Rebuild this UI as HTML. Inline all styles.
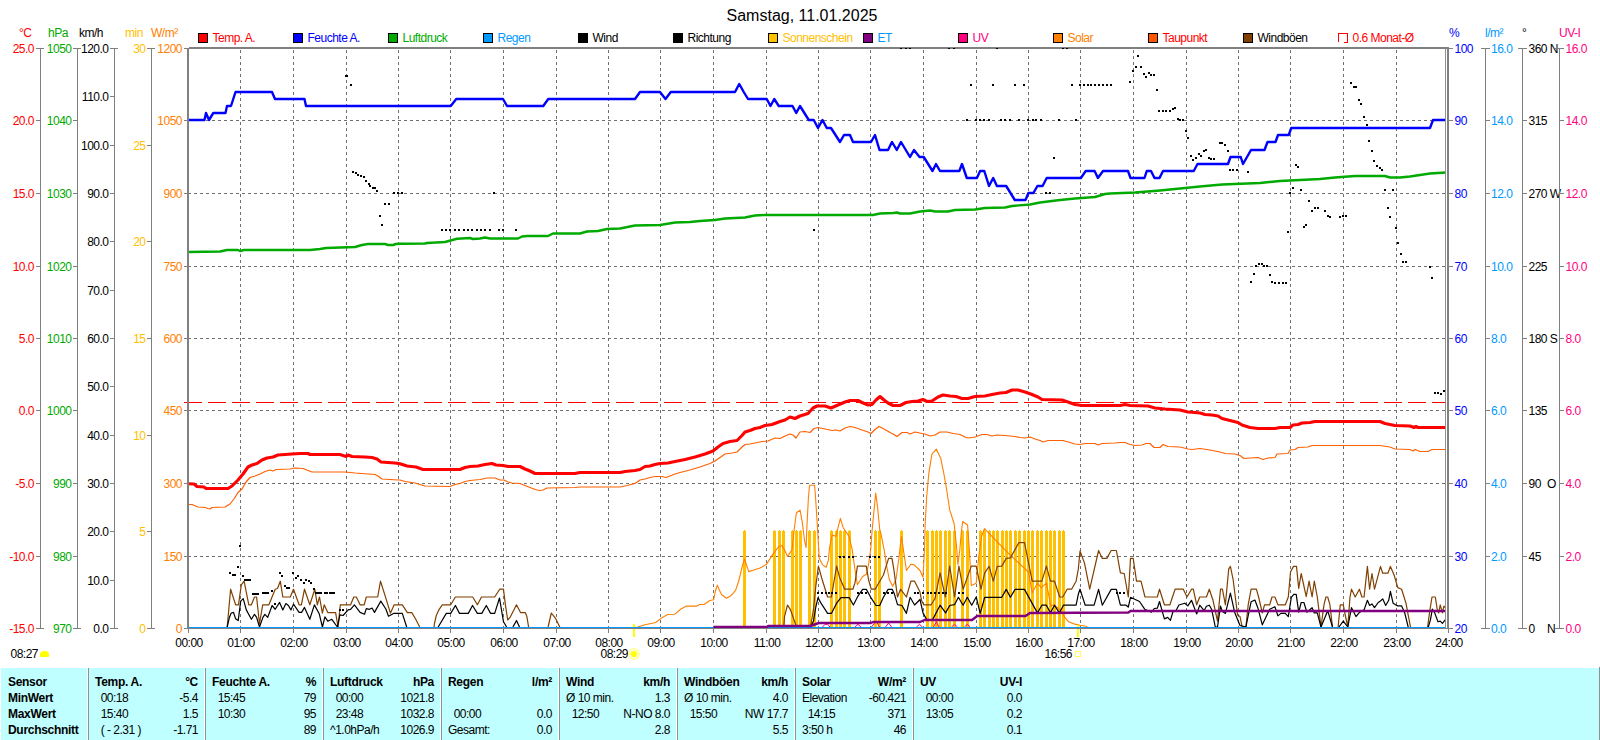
<!DOCTYPE html>
<html lang="de"><head><meta charset="utf-8"><title>Samstag, 11.01.2025</title>
<style>
html,body{margin:0;padding:0;background:#fff;}
body{width:1600px;height:740px;overflow:hidden;position:relative;font-family:"Liberation Sans",sans-serif;}
svg{position:absolute;left:0;top:0;display:block;}
svg text{font-family:"Liberation Sans",sans-serif;font-size:12px;letter-spacing:-0.5px;}
.t16{font-size:16px;letter-spacing:0;}
.b{font-weight:bold;letter-spacing:-0.3px;}
.e{text-anchor:end;}
.m{text-anchor:middle;}
.red{fill:#ff0000;} .grn{fill:#00aa00;} .blk{fill:#000;} .yel{fill:#ffc000;} .org{fill:#ff8000;}
.blu{fill:#0000ff;} .lbl{fill:#0099ff;} .pnk{fill:#ff0080;}
.ax{stroke:#808080;stroke-width:1;shape-rendering:crispEdges;fill:none;}
.grid{stroke:#707070;stroke-width:1;stroke-dasharray:3 3;shape-rendering:crispEdges;fill:none;}
</style></head><body>
<svg width="1600" height="740" viewBox="0 0 1600 740">
<rect x="0" y="0" width="1600" height="740" fill="#ffffff"/>
<text x="802" y="21" class="t16 m blk">Samstag, 11.01.2025</text>
<g class="grid">
<line x1="240.5" y1="50" x2="240.5" y2="627"/>
<line x1="293.5" y1="50" x2="293.5" y2="627"/>
<line x1="346.5" y1="50" x2="346.5" y2="627"/>
<line x1="398.5" y1="50" x2="398.5" y2="627"/>
<line x1="450.5" y1="50" x2="450.5" y2="627"/>
<line x1="503.5" y1="50" x2="503.5" y2="627"/>
<line x1="556.5" y1="50" x2="556.5" y2="627"/>
<line x1="608.5" y1="50" x2="608.5" y2="627"/>
<line x1="660.5" y1="50" x2="660.5" y2="627"/>
<line x1="713.5" y1="50" x2="713.5" y2="627"/>
<line x1="766.5" y1="50" x2="766.5" y2="627"/>
<line x1="818.5" y1="50" x2="818.5" y2="627"/>
<line x1="870.5" y1="50" x2="870.5" y2="627"/>
<line x1="923.5" y1="50" x2="923.5" y2="627"/>
<line x1="976.5" y1="50" x2="976.5" y2="627"/>
<line x1="1028.5" y1="50" x2="1028.5" y2="627"/>
<line x1="1080.5" y1="50" x2="1080.5" y2="627"/>
<line x1="1133.5" y1="50" x2="1133.5" y2="627"/>
<line x1="1186.5" y1="50" x2="1186.5" y2="627"/>
<line x1="1238.5" y1="50" x2="1238.5" y2="627"/>
<line x1="1290.5" y1="50" x2="1290.5" y2="627"/>
<line x1="1343.5" y1="50" x2="1343.5" y2="627"/>
<line x1="1396.5" y1="50" x2="1396.5" y2="627"/>
<line x1="188" y1="120.5" x2="1445" y2="120.5"/>
<line x1="188" y1="193.5" x2="1445" y2="193.5"/>
<line x1="188" y1="266.5" x2="1445" y2="266.5"/>
<line x1="188" y1="338.5" x2="1445" y2="338.5"/>
<line x1="188" y1="410.5" x2="1445" y2="410.5"/>
<line x1="188" y1="483.5" x2="1445" y2="483.5"/>
<line x1="188" y1="556.5" x2="1445" y2="556.5"/>
</g>
<g fill="#ffc000" shape-rendering="crispEdges">
<rect x="743" y="531" width="3" height="97"/><rect x="744" y="530" width="1" height="1"/>
<rect x="773" y="531" width="3" height="97"/><rect x="774" y="530" width="1" height="1"/>
<rect x="778" y="531" width="3" height="97"/><rect x="779" y="530" width="1" height="1"/>
<rect x="782" y="531" width="3" height="97"/><rect x="783" y="530" width="1" height="1"/>
<rect x="791" y="531" width="3" height="97"/><rect x="792" y="530" width="1" height="1"/>
<rect x="795" y="531" width="3" height="97"/><rect x="796" y="530" width="1" height="1"/>
<rect x="799" y="531" width="3" height="97"/><rect x="800" y="530" width="1" height="1"/>
<rect x="808" y="531" width="3" height="97"/><rect x="809" y="530" width="1" height="1"/>
<rect x="813" y="531" width="3" height="97"/><rect x="814" y="530" width="1" height="1"/>
<rect x="830" y="531" width="3" height="97"/><rect x="831" y="530" width="1" height="1"/>
<rect x="835" y="531" width="3" height="97"/><rect x="836" y="530" width="1" height="1"/>
<rect x="839" y="531" width="3" height="97"/><rect x="840" y="530" width="1" height="1"/>
<rect x="843" y="531" width="3" height="97"/><rect x="844" y="530" width="1" height="1"/>
<rect x="848" y="531" width="3" height="97"/><rect x="849" y="530" width="1" height="1"/>
<rect x="874" y="531" width="3" height="97"/><rect x="875" y="530" width="1" height="1"/>
<rect x="878" y="531" width="3" height="97"/><rect x="879" y="530" width="1" height="1"/>
<rect x="900" y="531" width="3" height="97"/><rect x="901" y="530" width="1" height="1"/>
<rect x="926" y="531" width="3" height="97"/><rect x="927" y="530" width="1" height="1"/>
<rect x="931" y="531" width="3" height="97"/><rect x="932" y="530" width="1" height="1"/>
<rect x="935" y="531" width="3" height="97"/><rect x="936" y="530" width="1" height="1"/>
<rect x="939" y="531" width="3" height="97"/><rect x="940" y="530" width="1" height="1"/>
<rect x="944" y="531" width="3" height="97"/><rect x="945" y="530" width="1" height="1"/>
<rect x="948" y="531" width="3" height="97"/><rect x="949" y="530" width="1" height="1"/>
<rect x="953" y="531" width="3" height="97"/><rect x="954" y="530" width="1" height="1"/>
<rect x="961" y="531" width="3" height="97"/><rect x="962" y="530" width="1" height="1"/>
<rect x="966" y="531" width="3" height="97"/><rect x="967" y="530" width="1" height="1"/>
<rect x="979" y="531" width="3" height="97"/><rect x="980" y="530" width="1" height="1"/>
<rect x="983" y="531" width="3" height="97"/><rect x="984" y="530" width="1" height="1"/>
<rect x="988" y="531" width="3" height="97"/><rect x="989" y="530" width="1" height="1"/>
<rect x="992" y="531" width="3" height="97"/><rect x="993" y="530" width="1" height="1"/>
<rect x="996" y="531" width="3" height="97"/><rect x="997" y="530" width="1" height="1"/>
<rect x="1001" y="531" width="3" height="97"/><rect x="1002" y="530" width="1" height="1"/>
<rect x="1005" y="531" width="3" height="97"/><rect x="1006" y="530" width="1" height="1"/>
<rect x="1009" y="531" width="3" height="97"/><rect x="1010" y="530" width="1" height="1"/>
<rect x="1014" y="531" width="3" height="97"/><rect x="1015" y="530" width="1" height="1"/>
<rect x="1018" y="531" width="3" height="97"/><rect x="1019" y="530" width="1" height="1"/>
<rect x="1023" y="531" width="3" height="97"/><rect x="1024" y="530" width="1" height="1"/>
<rect x="1027" y="531" width="3" height="97"/><rect x="1028" y="530" width="1" height="1"/>
<rect x="1031" y="531" width="3" height="97"/><rect x="1032" y="530" width="1" height="1"/>
<rect x="1036" y="531" width="3" height="97"/><rect x="1037" y="530" width="1" height="1"/>
<rect x="1040" y="531" width="3" height="97"/><rect x="1041" y="530" width="1" height="1"/>
<rect x="1045" y="531" width="3" height="97"/><rect x="1046" y="530" width="1" height="1"/>
<rect x="1049" y="531" width="3" height="97"/><rect x="1050" y="530" width="1" height="1"/>
<rect x="1053" y="531" width="3" height="97"/><rect x="1054" y="530" width="1" height="1"/>
<rect x="1058" y="531" width="3" height="97"/><rect x="1059" y="530" width="1" height="1"/>
<rect x="1062" y="531" width="3" height="97"/><rect x="1063" y="530" width="1" height="1"/>
</g>
<polyline points="637.5,627 645.1,624.7 655.7,622.5 661.4,618.1 667.7,614.5 674.6,614.3 680.9,609 686.5,606.1 696.6,606.1 699.7,604.5 704.1,604.5 709.8,600.5 713.6,599.8 715.4,591 717.3,585.1 719.2,589.8 721.7,594.8 726.5,598.3 730.5,596.1 735.6,590.4 738.7,581 742.5,565.3 744.4,559 746.2,564 748.7,571.6 753.1,570.3 759.4,568.2 766.3,564.6 773.4,553.4 778.6,546.8 782,545.6 784.5,549.7 787.5,556.4 792,550 794.2,529.2 796.4,512.8 800.1,510.2 802.4,523.2 804.6,541.1 806.1,547.5 806.8,529.2 808.3,499.5 809.5,485.3 814.6,485.3 815.7,499.5 817.2,523.2 819.2,557.9 822.4,564.6 826.2,567.3 828.4,560.1 829.5,548 832.1,535.1 836.1,536.3 838,527.7 840.4,518.3 843.2,527.7 849.2,536.6 852.2,549.7 855.1,570.5 857.4,584.7 862.6,576.5 866.3,574.3 868.5,564.6 870.7,549.7 872.2,529.2 874.5,505.4 875.7,493.1 877.4,505.4 879.7,529.2 881.2,534.9 884.1,549.7 886.4,564.6 889.3,579.5 892.7,586.2 896,579.5 899,557.2 900.5,544 901.5,536.6 903.4,549.7 906.4,570.5 910.9,564.2 913.9,564.6 920,570.5 923,577.2 924.5,549.7 925.2,523.2 926.7,496.5 928.9,472.7 931.9,454.1 936.4,449.2 940.8,458.6 943.8,473.4 946.8,490.5 949.7,509.9 954.2,524 956.4,545 957.9,564.6 959.8,550 961.3,532.2 962.7,521.5 967.6,525 969.5,552 971.3,585.4 976.2,583.2 978.7,557.2 981.7,536 984.4,528.6 1009.2,554.2 1028.5,572 1032.2,592.8 1037.4,583.2 1041.2,587.6 1046.4,583.2 1048.6,594.3 1050.8,606.2 1053.8,604.7 1057.5,607.7 1061.2,610.7 1064.9,617.4 1068.7,621.8 1074.6,624.1 1080,625.3 1087.4,626.5" fill="none" stroke="#ff8000" stroke-width="1.1" stroke-linejoin="round" />
<polyline points="227.2,627 230.6,589.2 235.6,604.8 238.5,604.8 241.3,584.8 244.1,581.2 248.8,604.8 251.4,604.8 254.5,597 256.6,597 259.5,623.7 262.7,604.8 268.9,604.8 275.2,589.2 277.5,588.5 280.3,581.2 282.8,597 290.3,597 293.5,589.2 299.1,604.8 301.4,604.8 304.5,589.2 309.8,604.8 314.8,589.2 317.3,604.8 319.5,597 322.4,613.2 324.2,604.8 327.8,612.6 335.6,612.6 338.1,627 340.3,604.8 350.6,604.8 353.8,597 356.3,597 360.1,604.8 364.2,604.8 366.3,597 377.7,597 380.5,581.2 386,598.6 390.4,613.2 394.2,604.8 402.3,604.8 407.4,612.6 411.8,612.6 415.5,618.7 419.7,627" fill="none" stroke="#804000" stroke-width="1.2" stroke-linejoin="round" />
<polyline points="434.1,627 434.4,623.7 436.3,615.5 438.8,609.9 442.3,604.8 450.7,604.8 455.4,597 472.7,597 477.4,604.8 481.5,597 494.7,597 499.7,589.2 503.5,589.2 505.4,604.9 507.7,620 510.4,616.8 516.5,604.8 520.5,612.6 525.2,612.6 526.8,616.2 528.6,627" fill="none" stroke="#804000" stroke-width="1.2" stroke-linejoin="round" />
<polyline points="548.1,627 551.3,613 555.7,618.7 559.8,627" fill="none" stroke="#804000" stroke-width="1.2" stroke-linejoin="round" />
<polyline points="783.8,627 784.5,616.6 787.5,605 790.5,609.9 795.7,624.8 797,627" fill="none" stroke="#804000" stroke-width="1.2" stroke-linejoin="round" />
<polyline points="810.5,627 813.5,609.2 815.7,586.9 818.4,566.2 821.7,578 827.6,597 831.4,597 836.6,566.2 839.5,577.2 844.7,589.2 852.9,589.2 855.1,582.4 857.4,566.2 866.3,566.2 868.5,579.5 871.2,589.2 875.2,589.2 883.4,575 888.6,558.4 892,558.4 893.8,569.1 897.5,597 900.5,589.2 906.4,597 910.9,581.2 914.6,581.2 920,592.1 921.5,600.3 923.7,604.8 931.1,604.8 934.9,598.8 940.1,572.8 945.3,597 949.7,566.1 954.6,597 958.9,566.1 963.1,589.2 971.3,566.1 976.2,566.1 981,589.2 984.7,572.8 989.1,566.4 993.3,581.2 997.3,566.4 1001.8,566.1 1006.2,558.4 1010.4,557.9 1018.9,542.6 1024.5,542.6 1032.2,581.2 1041.9,581.2 1046.4,566.1 1050.4,581.2 1054.5,581.2 1059.7,597 1062.7,597 1067.2,589.2 1071.6,589.2 1076.1,581.2 1078.3,569.1 1080,551 1084.5,563.1 1089.7,589.2 1098.6,550.5 1102.3,558.4 1106.8,558.4 1111.2,550.5 1116.4,550.5 1120.4,572.8 1124.2,573.5 1128.3,597 1130.5,558.4 1133.2,558.4 1136.5,581.2 1141,581.2 1145,597 1157.3,597 1159.5,589.2 1164.4,604.8 1169.9,604.8 1175.1,589.2 1183.3,589.2 1187,597 1191.5,589.2 1193.3,589.2 1196.7,604.8 1199.7,597 1206.4,597 1209.3,589.2 1213,600.3 1217.5,621.1 1220.5,589.2 1222.4,589.2 1225.4,604.8 1228.7,569.1 1230.4,566.4 1233.1,579.5 1237.6,615.1 1240,616.6 1242.2,627 1245.9,627 1248.2,604.8 1251.1,589.2 1256.4,589.2 1258.6,597 1262.3,613 1264.5,604.8 1269.7,604.8 1272,597 1274.9,597 1277.9,604.8 1285.3,604.8 1288.3,597 1290.5,572 1293.5,566.4 1296.5,566.4 1298.7,588.4 1301.2,573.5 1306.2,596.6 1309.1,581.2 1312.1,597 1314.3,581.2 1317.3,597 1321,627 1324,604.7 1325.9,597 1327.7,597 1329.9,604.7 1332.5,627" fill="none" stroke="#804000" stroke-width="1.2" stroke-linejoin="round" />
<polyline points="1338.1,627 1340.3,604.8 1343.3,604.8 1344.8,613 1347.8,627 1350,597 1351.5,589.2 1355.2,597 1359.4,589.2 1361.9,597 1364.1,597 1367.4,566.4 1369.6,589.2 1372,573.5 1374.5,589.2 1380.5,566.4 1382.7,573.2 1387.9,573.2 1390.4,566.4 1394.1,575 1397.8,587.6 1401.6,589.2 1406,603.2 1408.2,615.1 1410.5,627" fill="none" stroke="#804000" stroke-width="1.2" stroke-linejoin="round" />
<polyline points="1427.6,627 1429.8,610.7 1432,597 1435.3,597 1437.2,609.2 1438.7,612.9 1440.2,604.8 1442.4,612.9 1443.9,606.2 1445.4,607.7" fill="none" stroke="#804000" stroke-width="1.2" stroke-linejoin="round" />
<polyline points="227.2,627 229.4,617.4 231.2,613 233.5,612.4 235.6,618.7 238.2,620.6 240.7,601.1 243.2,598.6 246.3,609.9 251.4,619.3 254.5,614.3 256.6,617.4 259.5,627 262.9,617.4 264.9,614.3 267.7,617.4 272.1,605.5 275.2,609.3 279.6,602.4 282.8,609.9 285.9,603.6 288.4,605.5 290.9,609.9 293.5,604.2 299.1,612.4 301.6,612.4 304.5,607.4 309.8,619.3 314.4,604.9 319.2,613.7 322.4,627 324.9,616.8 327.8,621.2 331.8,619.3 337.4,627 339.9,614.9 343.1,615.5 348.1,609.9 350.6,609.3 354.4,604.9 360.1,612.4 364.5,614.3 366.3,608.6 369.5,609.3 372,608 374.5,612.4 380.8,601.1 386,609.3 388.5,616.2 393.5,613.4 402.3,613.4 406.7,627" fill="none" stroke="#000000" stroke-width="1.2" stroke-linejoin="round" />
<polyline points="438.2,627 446.3,613.4 450.7,613.4 455.4,605.5 459.5,613.4 468.3,613.4 472.5,605.5 477.4,613.4 481.8,613.4 486.3,605.5 490.6,613.4 494.7,613.4 499.5,598 503.5,621.8 506.6,627" fill="none" stroke="#000000" stroke-width="1.2" stroke-linejoin="round" />
<polyline points="512.9,627 516.5,620.6 519.5,627" fill="none" stroke="#000000" stroke-width="1.2" stroke-linejoin="round" />
<polyline points="810.5,627 813.5,621.1 815.7,607.7 818,597.6 821,603.2 827.6,613.4 831.4,613.4 836.6,603.2 841,597.6 849.2,597.6 853.4,605 858.1,595.8 862.6,589.4 866.3,589.4 870.7,597.3 876,605.5 879.7,605.5 883.4,597.3 888.1,589.4 892.3,589.4 894.5,594.3 897.5,604.7 902,605.5 906.4,613.4 910.1,597.3 914.6,605 920,599.5 923,612.9 926.7,619.6 932.6,619.6 940.1,605.2 945.6,612.9 949.7,605.5 954.5,604.7 958.4,597.3 963.1,605.2 967.3,597.3 971.7,605.2 976.2,597 980.2,613.4 984.7,597.3 1001.8,597.3 1006.2,589.4 1010.4,597.3 1015.1,589.4 1024.5,589.4 1037.4,612.9 1041.9,605.2 1046.4,605.2 1050.4,612.9 1054.5,605.2 1059.3,612.9 1063.5,605.2 1076.1,605.2 1078.3,594.3 1080,589.1 1085.2,605.2 1094.1,605.2 1098.6,589.4 1102.3,605.2 1111.2,589.4 1116.4,589.4 1120.4,605.2 1126.1,605.2 1128.3,607 1130.5,597.3 1139.5,601.5 1144.7,609.2 1151.4,612.2 1154.3,608.5 1157.3,608.2 1159.5,601.5 1164.4,618.9 1167.7,617.4 1170.4,620.3 1172.9,611.9 1175.9,610.7 1178.9,605 1184.8,603.2 1187.8,605.9 1191.5,600.3 1196.7,614 1199.7,605.2 1204.1,610.7 1206.4,606.2 1209.3,605.2 1211.6,609.2 1215.3,627 1217.5,627 1220.5,606.2 1222.4,611.4 1225.4,613.4 1230.4,593.1 1234.6,612.2 1240,625.5 1245.9,627 1248.9,612.2 1251.1,601.8 1254.9,600 1257.8,607.7 1262.3,624.8 1269.7,609.2 1274.9,606.7 1277.9,615.9 1280.9,613.4 1285.3,613.4 1288.3,616.6 1291.3,597.3 1293.8,594.3 1296.2,594.3 1298.7,612.2 1301.2,602.5 1303.9,602.5 1306.9,612.2 1312.1,607.7 1314.3,612.9 1317.3,612.9 1321,627 1327.7,610.7 1332.5,627" fill="none" stroke="#000000" stroke-width="1.2" stroke-linejoin="round" />
<polyline points="1338.9,627 1343.3,621.1 1347.8,627 1351.5,607.7 1356,616.6 1359.7,612.2 1364.1,609.9 1367.4,600.3 1369.6,605.5 1372,604 1374.5,607.7 1378.2,602.5 1380.5,601 1382.7,598.8 1385.7,605.5 1388.7,600.3 1390.4,591.4 1393.1,603.2 1397.6,605.9 1401.6,605.9 1404.5,612.2 1408.2,627" fill="none" stroke="#000000" stroke-width="1.2" stroke-linejoin="round" />
<polyline points="1428.3,627 1430.5,619.6 1432.3,609.2 1434.3,611.9 1438,621.8 1440.2,621.1 1442.4,623.3 1445.4,619.6" fill="none" stroke="#000000" stroke-width="1.2" stroke-linejoin="round" />
<polyline points="188,504.5 192,504.5 198,507 205,507.5 208,508.5 210,509 212,507.5 225,507 230,504 234,499 238,492.5 242,489 246,482 250,477.5 255,476 260,474 265,471.5 270,470 273,471 276,469.5 290,469 295,468 303,468.5 308,470.5 312,472 345,472 350,472.5 355,473 375,474.5 378,476 382,479 398,480 400,480 405,481.5 415,483 420,484.5 425,486 450,486.5 455,484.5 460,483.5 465,481.5 470,480.5 480,479.5 487,478 495,478 500,480 504,480 508,482 512,483 520,483.5 525,485.5 530,487.5 535,489.5 540,490.5 543,490 547,488 575,487.5 580,487 620,487 627,485.5 635,483.5 640,480 645,479 650,477.5 655,476.5 662,476.5 666,477.5 670,476 675,474 680,472.5 690,470 700,467 710,463.5 715,461 720,457.5 725,454 732,453 737,452 742,447 745,444.5 750,444 755,443 762,441.5 768,441 775,438 780,438.5 785,436 790,434 793,435 796,438 800,432 805,431.5 810,432.5 814,428.5 818,427.5 825,429 832,430.5 836,430 840,431 845,428 850,426.5 855,427.5 862,430 868,432 871,433.5 875,429.5 879,426.5 885,429.5 890,432.5 893,434 897,436.5 902,432.5 907,432.5 910,434 915,432 922,433.5 925,434 930,436 935,435 940,432 947,432 953,433.5 960,434.5 965,437 968,438 975,437 982,434.5 987,434.5 992,436 997,435 1005,435.5 1010,436 1015,436.5 1020,437.5 1025,438 1030,437 1035,439 1040,440.5 1043,442 1048,440.5 1063,440.5 1070,442.5 1075,444 1080,444.5 1085,443.5 1095,443.5 1098,445 1102,443.5 1115,443 1120,442.5 1125,442.5 1130,444.5 1135,445.5 1142,445 1146,443.5 1150,443.5 1154,447.5 1160,447.5 1163,444.5 1168,446.5 1180,447 1188,449 1192,449.5 1200,448.5 1210,450 1215,451 1220,452 1225,453.5 1235,454 1240,455.5 1244,458.5 1250,458 1258,457.5 1263,459.5 1268,458 1275,457.5 1277,454 1288,453.5 1290,450 1295,449.5 1298,447.5 1308,447 1312,445.5 1380,445.5 1390,447 1395,449 1410,449.5 1413,451 1415,449.5 1420,451.5 1428,451.5 1432,449.5 1446,449.5" fill="none" stroke="#ff6000" stroke-width="1.2" stroke-linejoin="round" />
<polyline points="188,252 220,251.5 227,250 238,250 240,251 244,250 310,250 320,249 326,248 355,247 362,245 368,244 385,244 388,245 393,245 396,244 400,243.75 425,243.5 427,243 445,242 457,238.75 470,238 473,239 480,238.5 485,237.5 490,238.5 518,238.5 522,236.5 527,236 548,236 553,233.5 580,233.5 587,231.5 598,231 607,229 620,228.5 630,226.5 635,225.5 660,225 675,222.5 690,222 700,221 715,220 725,218.5 745,217.5 755,215.5 765,215 800,215 873,215 880,213.5 893,213 897,212.5 900,213.5 910,213.5 920,211.5 930,210.5 935,211.5 948,211.5 955,210 975,209.5 985,208 1005,207.5 1012,206 1030,204.5 1040,202.5 1048,201.5 1060,200 1075,198.5 1095,197 1105,194 1110,193.5 1135,192.5 1160,190.5 1175,189 1200,186.5 1222,184.5 1260,183 1280,181 1290,180.5 1320,179 1335,177.5 1355,176 1385,176 1390,177.5 1400,177.5 1410,176.5 1420,175 1430,173.5 1446,172.5" fill="none" stroke="#00aa00" stroke-width="2.4" stroke-linejoin="round" />
<polyline points="188,120 204.5,120 206,113 209,120 213.3,113 225.5,113 227,106 231,106 235.5,92 272,92 275,99 304.5,99 306,106 450.75,106 456.25,99 503,99 507,106 543.25,106 548.25,99 635,99 640,92 660,92 665.5,99 670.75,92 735,92 739.25,84 743.75,92 748,99 766.75,99 770.5,106 774.25,99 778.75,106 792.5,106 796.25,113 800,106 808.75,120 813.75,120 818,128 822.5,120 826.75,128 831,128 840,142 844,135 850,135 853,142 871,142 875,135 879.5,150 888,150 892,142 896.75,150 901,142 910,157 914,150 919.5,157 923.75,157 932.5,171 936,164 940,171 959.3,171 962,164 966.8,178 976.9,178 980.1,171 984.3,171 989,186 993.2,178 996.9,186 1006.2,186 1014.8,200 1025.5,200 1028.4,193 1033.4,193 1037.4,186 1042.6,186 1046.7,178 1080.9,178 1085.7,171 1094.6,171 1097.9,178 1103,171 1128,171 1130.5,178 1144.5,178 1146.75,171 1151,171 1154.5,178 1159.5,178 1163,171 1193.75,171 1197.5,164 1228,164 1230.5,157 1240.75,157 1243,164 1251,150 1264.5,150 1267.5,142 1275.5,142 1278,135 1288.75,135 1291.25,128 1430,128 1433,120 1446,120" fill="none" stroke="#0000ff" stroke-width="2.4" stroke-linejoin="round" />
<polyline points="188,483.75 194,484 197,486.5 204,487 206,488.5 228,488.5 232,486 238,480 243,474 248,467 252,465 257,463.5 262,460 267,458 273,457 278,455 292,454 300,453.5 308,453.5 310,454.5 340,454.5 343,455.5 346,456.5 348,455 352,456.5 365,457 372,457.5 377,459 381,462 395,463 400,463.75 407,466 416,467 423,469.5 460,469.5 465,467.5 470,466.5 478,466 485,464.5 492,463.5 496,465 503,465.5 508,466.5 520,466.5 525,469 530,471 535,473.5 575,473.5 580,472.5 620,472.5 625,471.5 635,470.5 640,469.5 645,466.5 650,466 655,464.5 660,463.5 668,463 675,461.5 685,459.5 695,457 705,454 713,451 718,447 723,443.5 730,441.5 737,440.5 742,435.5 745,432 750,430.5 755,428.5 760,427.5 765,425.5 772,424.5 780,421.5 785,420 790,417 795,418.5 800,416 808,413.5 813,408 817,406 825,406 831,408 838,405 845,402 850,400.5 858,400.5 862,402.5 868,405 872,404.5 876,400 880,396.5 884,400 888,403 893,405.5 900,405.5 906,402.5 912,401.5 918,401 923,399.5 927,401.5 932,401 938,397 943,395 950,396 956,396.5 962,398.5 968,398.5 975,396.5 985,396 992,394.5 1000,393 1006,392.5 1012,390 1018,390 1025,392 1032,394.5 1038,397 1042,399.5 1062,400 1068,402 1075,404.5 1082,405.5 1120,405.5 1125,404.5 1130,405.5 1148,406 1155,408 1165,409 1180,410 1188,412 1195,412.5 1200,413 1205,414.5 1212,415 1218,416 1222,418.5 1230,420.5 1238,422.5 1242,425 1250,427.5 1258,428.5 1275,428.5 1280,427.5 1290,427.5 1293,425 1298,424.5 1302,423 1310,422.5 1315,421.5 1380,421.5 1385,423.5 1390,424.5 1395,425.5 1410,426 1414,427.5 1416,426.5 1418,427.5 1446,427.5" fill="none" stroke="#ff0000" stroke-width="3.1" stroke-linejoin="round" />
<line x1="184" y1="402.5" x2="1446" y2="402.5" stroke="#ff0000" stroke-width="1" stroke-dasharray="18 6" shape-rendering="crispEdges"/>
<polyline points="822.5,627 825,624.3 827.6,624.3 830,627" fill="none" stroke="#ff0080" stroke-width="1" stroke-linejoin="round" />
<polyline points="855,627 858,624.3 861,627" fill="none" stroke="#ff0080" stroke-width="1" stroke-linejoin="round" />
<polyline points="871.5,627 876,621 879.5,627" fill="none" stroke="#ff0080" stroke-width="1" stroke-linejoin="round" />
<polyline points="885.6,627 888.6,623 891.6,627" fill="none" stroke="#ff0080" stroke-width="1" stroke-linejoin="round" />
<polyline points="916.5,627 919.5,624.3 922.5,627" fill="none" stroke="#ff0080" stroke-width="1" stroke-linejoin="round" />
<polyline points="933.5,627 936.4,621.8 939,627" fill="none" stroke="#ff0080" stroke-width="1" stroke-linejoin="round" />
<polyline points="951.5,627 954.5,624.3 957.5,627" fill="none" stroke="#ff0080" stroke-width="1" stroke-linejoin="round" />
<polyline points="964.3,627 967.3,624.3 970.3,627" fill="none" stroke="#ff0080" stroke-width="1" stroke-linejoin="round" />
<rect x="189" y="627" width="1257" height="1" fill="#0099ff" shape-rendering="crispEdges"/>
<polyline points="713.6,627 767,627 768,626 810.5,626 818.7,623 870.7,623 873,622 920,622 924.5,620 972,620 977.2,616 1025.5,616 1030,613 1128.3,612.5 1130.5,611 1446,611" fill="none" stroke="#800080" stroke-width="2.4" stroke-linejoin="round" />
<g fill="#000" shape-rendering="crispEdges">
<rect x="239" y="545" width="2" height="2"/>
<rect x="237" y="566" width="2" height="2"/>
<rect x="229" y="572" width="2" height="2"/>
<rect x="232" y="574" width="4" height="2"/>
<rect x="242" y="575" width="2" height="2"/>
<rect x="244" y="579" width="7" height="2"/>
<rect x="279" y="572" width="2" height="2"/>
<rect x="281" y="575" width="2" height="2"/>
<rect x="284" y="585" width="2" height="2"/>
<rect x="286" y="587" width="4" height="2"/>
<rect x="292" y="572" width="2" height="2"/>
<rect x="297" y="575" width="2" height="2"/>
<rect x="295" y="577" width="2" height="2"/>
<rect x="300" y="579" width="2" height="2"/>
<rect x="305" y="579" width="2" height="2"/>
<rect x="303" y="582" width="2" height="2"/>
<rect x="308" y="580" width="2" height="2"/>
<rect x="310" y="582" width="2" height="2"/>
<rect x="313" y="588" width="2" height="2"/>
<rect x="252" y="593" width="7" height="2"/>
<rect x="262" y="592" width="7" height="2"/>
<rect x="271" y="590" width="2" height="2"/>
<rect x="315" y="592" width="7" height="2"/>
<rect x="324" y="592" width="4" height="2"/>
<rect x="329" y="592" width="6" height="2"/>
<rect x="274" y="603" width="2" height="2"/>
<rect x="339" y="609" width="2" height="2"/>
<rect x="342" y="609" width="2" height="2"/>
<rect x="345" y="75" width="3" height="2"/>
<rect x="350" y="84" width="2" height="2"/>
<rect x="352" y="171" width="2" height="2"/>
<rect x="355" y="172" width="2" height="2"/>
<rect x="357" y="174" width="2" height="2"/>
<rect x="360" y="175" width="2" height="2"/>
<rect x="363" y="176" width="2" height="2"/>
<rect x="365" y="180" width="2" height="2"/>
<rect x="368" y="183" width="2" height="2"/>
<rect x="369" y="185" width="2" height="2"/>
<rect x="372" y="187" width="4" height="2"/>
<rect x="376" y="190" width="2" height="2"/>
<rect x="393" y="192" width="2" height="2"/>
<rect x="397" y="192" width="2" height="2"/>
<rect x="401" y="192" width="2" height="2"/>
<rect x="384" y="203" width="2" height="2"/>
<rect x="388" y="203" width="2" height="2"/>
<rect x="379" y="215" width="2" height="2"/>
<rect x="381" y="224" width="2" height="2"/>
<rect x="493" y="192" width="2" height="2"/>
<rect x="441" y="229" width="2" height="2"/>
<rect x="445" y="229" width="2" height="2"/>
<rect x="449" y="229" width="2" height="2"/>
<rect x="454" y="229" width="2" height="2"/>
<rect x="458" y="229" width="2" height="2"/>
<rect x="463" y="229" width="2" height="2"/>
<rect x="467" y="229" width="2" height="2"/>
<rect x="471" y="229" width="2" height="2"/>
<rect x="476" y="229" width="2" height="2"/>
<rect x="480" y="229" width="2" height="2"/>
<rect x="484" y="229" width="2" height="2"/>
<rect x="489" y="229" width="2" height="2"/>
<rect x="498" y="229" width="2" height="2"/>
<rect x="502" y="229" width="2" height="2"/>
<rect x="515" y="229" width="2" height="2"/>
<rect x="813" y="229" width="2" height="2"/>
<rect x="970" y="84" width="2" height="2"/>
<rect x="992" y="84" width="2" height="2"/>
<rect x="1014" y="84" width="2" height="2"/>
<rect x="1023" y="84" width="2" height="2"/>
<rect x="1071" y="84" width="2" height="2"/>
<rect x="1079" y="84" width="2" height="2"/>
<rect x="1083" y="84" width="2" height="2"/>
<rect x="1087" y="84" width="2" height="2"/>
<rect x="1090" y="84" width="2" height="2"/>
<rect x="1094" y="84" width="2" height="2"/>
<rect x="1098" y="84" width="2" height="2"/>
<rect x="1102" y="84" width="2" height="2"/>
<rect x="1106" y="84" width="2" height="2"/>
<rect x="1110" y="84" width="2" height="2"/>
<rect x="966" y="119" width="2" height="2"/>
<rect x="975" y="119" width="2" height="2"/>
<rect x="979" y="119" width="2" height="2"/>
<rect x="983" y="119" width="2" height="2"/>
<rect x="988" y="119" width="2" height="2"/>
<rect x="1000" y="119" width="2" height="2"/>
<rect x="1004" y="119" width="2" height="2"/>
<rect x="1009" y="119" width="2" height="2"/>
<rect x="1018" y="119" width="2" height="2"/>
<rect x="1027" y="119" width="2" height="2"/>
<rect x="1032" y="119" width="2" height="2"/>
<rect x="1035" y="119" width="2" height="2"/>
<rect x="1040" y="119" width="2" height="2"/>
<rect x="1058" y="119" width="2" height="2"/>
<rect x="1075" y="119" width="2" height="2"/>
<rect x="1053" y="157" width="2" height="2"/>
<rect x="1045" y="192" width="2" height="2"/>
<rect x="1049" y="192" width="2" height="2"/>
<rect x="1137" y="55" width="2" height="2"/>
<rect x="1132" y="70" width="2" height="2"/>
<rect x="1135" y="66" width="2" height="2"/>
<rect x="1140" y="66" width="2" height="2"/>
<rect x="1129" y="81" width="2" height="2"/>
<rect x="1143" y="73" width="2" height="2"/>
<rect x="1145" y="76" width="2" height="2"/>
<rect x="1148" y="72" width="2" height="2"/>
<rect x="1150" y="74" width="2" height="2"/>
<rect x="1153" y="74" width="2" height="2"/>
<rect x="1156" y="89" width="2" height="2"/>
<rect x="1158" y="110" width="2" height="2"/>
<rect x="1162" y="110" width="2" height="2"/>
<rect x="1165" y="110" width="2" height="2"/>
<rect x="1169" y="110" width="2" height="2"/>
<rect x="1172" y="108" width="2" height="2"/>
<rect x="1174" y="107" width="2" height="2"/>
<rect x="1177" y="118" width="2" height="2"/>
<rect x="1179" y="119" width="2" height="2"/>
<rect x="1182" y="119" width="2" height="2"/>
<rect x="1185" y="130" width="2" height="2"/>
<rect x="1187" y="137" width="2" height="2"/>
<rect x="1190" y="155" width="2" height="2"/>
<rect x="1192" y="159" width="2" height="2"/>
<rect x="1195" y="157" width="2" height="2"/>
<rect x="1198" y="153" width="2" height="2"/>
<rect x="1200" y="155" width="2" height="2"/>
<rect x="1203" y="150" width="2" height="2"/>
<rect x="1205" y="149" width="2" height="2"/>
<rect x="1208" y="157" width="2" height="2"/>
<rect x="1210" y="158" width="2" height="2"/>
<rect x="1213" y="158" width="2" height="2"/>
<rect x="1219" y="142" width="2" height="2"/>
<rect x="1221" y="142" width="2" height="2"/>
<rect x="1224" y="144" width="2" height="2"/>
<rect x="1227" y="150" width="2" height="2"/>
<rect x="1229" y="169" width="2" height="2"/>
<rect x="1232" y="169" width="2" height="2"/>
<rect x="1236" y="169" width="2" height="2"/>
<rect x="1247" y="171" width="2" height="2"/>
<rect x="1295" y="164" width="2" height="2"/>
<rect x="1297" y="166" width="2" height="2"/>
<rect x="1350" y="82" width="2" height="2"/>
<rect x="1353" y="86" width="4" height="2"/>
<rect x="1358" y="99" width="2" height="2"/>
<rect x="1360" y="103" width="2" height="2"/>
<rect x="1363" y="116" width="2" height="2"/>
<rect x="1366" y="124" width="2" height="2"/>
<rect x="1368" y="140" width="2" height="2"/>
<rect x="1371" y="150" width="2" height="2"/>
<rect x="1373" y="160" width="2" height="2"/>
<rect x="1376" y="165" width="2" height="2"/>
<rect x="1379" y="167" width="2" height="2"/>
<rect x="1381" y="169" width="2" height="2"/>
<rect x="1292" y="187" width="2" height="2"/>
<rect x="1289" y="192" width="2" height="2"/>
<rect x="1300" y="189" width="2" height="2"/>
<rect x="1287" y="231" width="2" height="2"/>
<rect x="1308" y="200" width="2" height="2"/>
<rect x="1311" y="210" width="2" height="2"/>
<rect x="1314" y="207" width="2" height="2"/>
<rect x="1317" y="207" width="2" height="2"/>
<rect x="1303" y="226" width="2" height="2"/>
<rect x="1305" y="224" width="2" height="2"/>
<rect x="1324" y="210" width="2" height="2"/>
<rect x="1327" y="215" width="2" height="2"/>
<rect x="1329" y="216" width="2" height="2"/>
<rect x="1339" y="216" width="2" height="2"/>
<rect x="1342" y="215" width="2" height="2"/>
<rect x="1345" y="215" width="2" height="2"/>
<rect x="1384" y="189" width="2" height="2"/>
<rect x="1392" y="189" width="2" height="2"/>
<rect x="1387" y="207" width="2" height="2"/>
<rect x="1389" y="216" width="2" height="2"/>
<rect x="1395" y="227" width="2" height="2"/>
<rect x="1397" y="242" width="2" height="2"/>
<rect x="1400" y="253" width="2" height="2"/>
<rect x="1402" y="261" width="2" height="2"/>
<rect x="1405" y="261" width="2" height="2"/>
<rect x="1429" y="266" width="2" height="2"/>
<rect x="1431" y="277" width="2" height="2"/>
<rect x="1250" y="281" width="2" height="2"/>
<rect x="1253" y="273" width="2" height="2"/>
<rect x="1255" y="265" width="2" height="2"/>
<rect x="1258" y="263" width="2" height="2"/>
<rect x="1261" y="263" width="2" height="2"/>
<rect x="1263" y="265" width="2" height="2"/>
<rect x="1266" y="265" width="2" height="2"/>
<rect x="1269" y="274" width="2" height="2"/>
<rect x="1271" y="281" width="2" height="2"/>
<rect x="1274" y="282" width="2" height="2"/>
<rect x="1278" y="282" width="2" height="2"/>
<rect x="1282" y="282" width="2" height="2"/>
<rect x="1285" y="282" width="2" height="2"/>
<rect x="1434" y="392" width="2" height="2"/>
<rect x="1437" y="392" width="2" height="2"/>
<rect x="1440" y="393" width="2" height="2"/>
<rect x="1443" y="390" width="2" height="2"/>
<rect x="839" y="556" width="2" height="2"/>
<rect x="843" y="556" width="2" height="2"/>
<rect x="848" y="556" width="2" height="2"/>
<rect x="852" y="556" width="2" height="2"/>
<rect x="869" y="556" width="2" height="2"/>
<rect x="874" y="556" width="2" height="2"/>
<rect x="878" y="556" width="2" height="2"/>
<rect x="817" y="592" width="2" height="2"/>
<rect x="821" y="592" width="2" height="2"/>
<rect x="825" y="592" width="2" height="2"/>
<rect x="828" y="592" width="2" height="2"/>
<rect x="831" y="592" width="2" height="2"/>
<rect x="835" y="592" width="2" height="2"/>
<rect x="857" y="592" width="2" height="2"/>
<rect x="861" y="592" width="2" height="2"/>
<rect x="865" y="592" width="2" height="2"/>
<rect x="883" y="592" width="2" height="2"/>
<rect x="887" y="592" width="2" height="2"/>
<rect x="891" y="592" width="2" height="2"/>
<rect x="914" y="592" width="2" height="2"/>
<rect x="917" y="592" width="2" height="2"/>
<rect x="922" y="592" width="2" height="2"/>
<rect x="927" y="592" width="2" height="2"/>
<rect x="930" y="592" width="2" height="2"/>
<rect x="934" y="592" width="2" height="2"/>
<rect x="938" y="592" width="2" height="2"/>
<rect x="942" y="592" width="2" height="2"/>
<rect x="945" y="592" width="2" height="2"/>
<rect x="958" y="592" width="2" height="2"/>
<rect x="962" y="592" width="2" height="2"/>
<rect x="1116" y="592" width="2" height="2"/>
<rect x="1119" y="592" width="2" height="2"/>
<rect x="1123" y="592" width="2" height="2"/>
</g>
<g fill="#808080" shape-rendering="crispEdges">
<rect x="189" y="47" width="1260" height="2"/>
<rect x="187" y="48" width="2" height="581"/>
<rect x="1447" y="47" width="2" height="582"/>
<rect x="1445" y="49" width="1" height="579" fill="#909090"/>
<rect x="184" y="628" width="1268" height="1"/>
<rect x="188" y="629" width="1" height="4"/>
<rect x="240" y="629" width="1" height="4"/>
<rect x="293" y="629" width="1" height="4"/>
<rect x="346" y="629" width="1" height="4"/>
<rect x="398" y="629" width="1" height="4"/>
<rect x="450" y="629" width="1" height="4"/>
<rect x="503" y="629" width="1" height="4"/>
<rect x="556" y="629" width="1" height="4"/>
<rect x="608" y="629" width="1" height="4"/>
<rect x="660" y="629" width="1" height="4"/>
<rect x="713" y="629" width="1" height="4"/>
<rect x="766" y="629" width="1" height="4"/>
<rect x="818" y="629" width="1" height="4"/>
<rect x="870" y="629" width="1" height="4"/>
<rect x="923" y="629" width="1" height="4"/>
<rect x="976" y="629" width="1" height="4"/>
<rect x="1028" y="629" width="1" height="4"/>
<rect x="1080" y="629" width="1" height="4"/>
<rect x="1133" y="629" width="1" height="4"/>
<rect x="1186" y="629" width="1" height="4"/>
<rect x="1238" y="629" width="1" height="4"/>
<rect x="1290" y="629" width="1" height="4"/>
<rect x="1343" y="629" width="1" height="4"/>
<rect x="1396" y="629" width="1" height="4"/>
<rect x="1448" y="629" width="1" height="4"/>
</g>
<g fill="#000" shape-rendering="crispEdges">
<rect x="900" y="48" width="2" height="1"/>
<rect x="905" y="48" width="2" height="1"/>
<rect x="909" y="48" width="2" height="1"/>
<rect x="948" y="48" width="2" height="1"/>
<rect x="953" y="48" width="2" height="1"/>
<rect x="996" y="48" width="2" height="1"/>
<rect x="1062" y="48" width="2" height="1"/>
<rect x="1066" y="48" width="2" height="1"/>
</g>
<line class="ax" x1="40.5" y1="48" x2="40.5" y2="629"/>
<line class="ax" x1="36" y1="628.5" x2="44" y2="628.5"/>
<text x="34" y="633" class="e red">-15.0</text>
<line class="ax" x1="36" y1="556.5" x2="40" y2="556.5"/>
<text x="34" y="561" class="e red">-10.0</text>
<line class="ax" x1="36" y1="483.5" x2="40" y2="483.5"/>
<text x="34" y="488" class="e red">-5.0</text>
<line class="ax" x1="36" y1="410.5" x2="40" y2="410.5"/>
<text x="34" y="415" class="e red">0.0</text>
<line class="ax" x1="36" y1="338.5" x2="40" y2="338.5"/>
<text x="34" y="343" class="e red">5.0</text>
<line class="ax" x1="36" y1="266.5" x2="40" y2="266.5"/>
<text x="34" y="271" class="e red">10.0</text>
<line class="ax" x1="36" y1="193.5" x2="40" y2="193.5"/>
<text x="34" y="198" class="e red">15.0</text>
<line class="ax" x1="36" y1="120.5" x2="40" y2="120.5"/>
<text x="34" y="125" class="e red">20.0</text>
<line class="ax" x1="36" y1="48.5" x2="44" y2="48.5"/>
<text x="34" y="53" class="e red">25.0</text>
<line class="ax" x1="77.5" y1="48" x2="77.5" y2="629"/>
<line class="ax" x1="73" y1="628.5" x2="81" y2="628.5"/>
<text x="71.5" y="633" class="e grn">970</text>
<line class="ax" x1="73" y1="556.5" x2="77" y2="556.5"/>
<text x="71.5" y="561" class="e grn">980</text>
<line class="ax" x1="73" y1="483.5" x2="77" y2="483.5"/>
<text x="71.5" y="488" class="e grn">990</text>
<line class="ax" x1="73" y1="410.5" x2="77" y2="410.5"/>
<text x="71.5" y="415" class="e grn">1000</text>
<line class="ax" x1="73" y1="338.5" x2="77" y2="338.5"/>
<text x="71.5" y="343" class="e grn">1010</text>
<line class="ax" x1="73" y1="266.5" x2="77" y2="266.5"/>
<text x="71.5" y="271" class="e grn">1020</text>
<line class="ax" x1="73" y1="193.5" x2="77" y2="193.5"/>
<text x="71.5" y="198" class="e grn">1030</text>
<line class="ax" x1="73" y1="120.5" x2="77" y2="120.5"/>
<text x="71.5" y="125" class="e grn">1040</text>
<line class="ax" x1="73" y1="48.5" x2="81" y2="48.5"/>
<text x="71.5" y="53" class="e grn">1050</text>
<line class="ax" x1="114.5" y1="48" x2="114.5" y2="629"/>
<line class="ax" x1="110" y1="628.5" x2="118" y2="628.5"/>
<text x="108.5" y="633" class="e blk">0.0</text>
<line class="ax" x1="110" y1="580.5" x2="114" y2="580.5"/>
<text x="108.5" y="585" class="e blk">10.0</text>
<line class="ax" x1="110" y1="531.5" x2="114" y2="531.5"/>
<text x="108.5" y="536" class="e blk">20.0</text>
<line class="ax" x1="110" y1="483.5" x2="114" y2="483.5"/>
<text x="108.5" y="488" class="e blk">30.0</text>
<line class="ax" x1="110" y1="435.5" x2="114" y2="435.5"/>
<text x="108.5" y="440" class="e blk">40.0</text>
<line class="ax" x1="110" y1="386.5" x2="114" y2="386.5"/>
<text x="108.5" y="391" class="e blk">50.0</text>
<line class="ax" x1="110" y1="338.5" x2="114" y2="338.5"/>
<text x="108.5" y="343" class="e blk">60.0</text>
<line class="ax" x1="110" y1="290.5" x2="114" y2="290.5"/>
<text x="108.5" y="295" class="e blk">70.0</text>
<line class="ax" x1="110" y1="241.5" x2="114" y2="241.5"/>
<text x="108.5" y="246" class="e blk">80.0</text>
<line class="ax" x1="110" y1="193.5" x2="114" y2="193.5"/>
<text x="108.5" y="198" class="e blk">90.0</text>
<line class="ax" x1="110" y1="145.5" x2="114" y2="145.5"/>
<text x="108.5" y="150" class="e blk">100.0</text>
<line class="ax" x1="110" y1="96.5" x2="114" y2="96.5"/>
<text x="108.5" y="101" class="e blk">110.0</text>
<line class="ax" x1="110" y1="48.5" x2="118" y2="48.5"/>
<text x="108.5" y="53" class="e blk">120.0</text>
<line class="ax" x1="151.5" y1="48" x2="151.5" y2="629"/>
<line class="ax" x1="147" y1="628.5" x2="155" y2="628.5"/>
<text x="145.5" y="633" class="e yel">0</text>
<line class="ax" x1="147" y1="531.5" x2="151" y2="531.5"/>
<text x="145.5" y="536" class="e yel">5</text>
<line class="ax" x1="147" y1="435.5" x2="151" y2="435.5"/>
<text x="145.5" y="440" class="e yel">10</text>
<line class="ax" x1="147" y1="338.5" x2="151" y2="338.5"/>
<text x="145.5" y="343" class="e yel">15</text>
<line class="ax" x1="147" y1="241.5" x2="151" y2="241.5"/>
<text x="145.5" y="246" class="e yel">20</text>
<line class="ax" x1="147" y1="145.5" x2="151" y2="145.5"/>
<text x="145.5" y="150" class="e yel">25</text>
<line class="ax" x1="147" y1="48.5" x2="155" y2="48.5"/>
<text x="145.5" y="53" class="e yel">30</text>
<line class="ax" x1="184" y1="628.5" x2="188" y2="628.5"/>
<text x="182" y="633" class="e org">0</text>
<line class="ax" x1="184" y1="556.5" x2="188" y2="556.5"/>
<text x="182" y="561" class="e org">150</text>
<line class="ax" x1="184" y1="483.5" x2="188" y2="483.5"/>
<text x="182" y="488" class="e org">300</text>
<line class="ax" x1="184" y1="410.5" x2="188" y2="410.5"/>
<text x="182" y="415" class="e org">450</text>
<line class="ax" x1="184" y1="338.5" x2="188" y2="338.5"/>
<text x="182" y="343" class="e org">600</text>
<line class="ax" x1="184" y1="266.5" x2="188" y2="266.5"/>
<text x="182" y="271" class="e org">750</text>
<line class="ax" x1="184" y1="193.5" x2="188" y2="193.5"/>
<text x="182" y="198" class="e org">900</text>
<line class="ax" x1="184" y1="120.5" x2="188" y2="120.5"/>
<text x="182" y="125" class="e org">1050</text>
<line class="ax" x1="184" y1="48.5" x2="188" y2="48.5"/>
<text x="182" y="53" class="e org">1200</text>
<text x="19" y="37" class="red">°C</text>
<text x="48" y="37" class="grn">hPa</text>
<text x="79" y="37" class="blk">km/h</text>
<text x="125" y="37" class="yel">min</text>
<text x="151" y="37" class="org">W/m²</text>
<line class="ax" x1="1448" y1="628.5" x2="1453" y2="628.5"/>
<text x="1454.5" y="633" class="blu">20</text>
<line class="ax" x1="1448" y1="556.5" x2="1453" y2="556.5"/>
<text x="1454.5" y="561" class="blu">30</text>
<line class="ax" x1="1448" y1="483.5" x2="1453" y2="483.5"/>
<text x="1454.5" y="488" class="blu">40</text>
<line class="ax" x1="1448" y1="410.5" x2="1453" y2="410.5"/>
<text x="1454.5" y="415" class="blu">50</text>
<line class="ax" x1="1448" y1="338.5" x2="1453" y2="338.5"/>
<text x="1454.5" y="343" class="blu">60</text>
<line class="ax" x1="1448" y1="266.5" x2="1453" y2="266.5"/>
<text x="1454.5" y="271" class="blu">70</text>
<line class="ax" x1="1448" y1="193.5" x2="1453" y2="193.5"/>
<text x="1454.5" y="198" class="blu">80</text>
<line class="ax" x1="1448" y1="120.5" x2="1453" y2="120.5"/>
<text x="1454.5" y="125" class="blu">90</text>
<line class="ax" x1="1448" y1="48.5" x2="1453" y2="48.5"/>
<text x="1454.5" y="53" class="blu">100</text>
<line class="ax" x1="1485.5" y1="48" x2="1485.5" y2="629"/>
<line class="ax" x1="1481" y1="628.5" x2="1490" y2="628.5"/>
<text x="1491" y="633" class="lbl">0.0</text>
<line class="ax" x1="1485" y1="556.5" x2="1490" y2="556.5"/>
<text x="1491" y="561" class="lbl">2.0</text>
<line class="ax" x1="1485" y1="483.5" x2="1490" y2="483.5"/>
<text x="1491" y="488" class="lbl">4.0</text>
<line class="ax" x1="1485" y1="410.5" x2="1490" y2="410.5"/>
<text x="1491" y="415" class="lbl">6.0</text>
<line class="ax" x1="1485" y1="338.5" x2="1490" y2="338.5"/>
<text x="1491" y="343" class="lbl">8.0</text>
<line class="ax" x1="1485" y1="266.5" x2="1490" y2="266.5"/>
<text x="1491" y="271" class="lbl">10.0</text>
<line class="ax" x1="1485" y1="193.5" x2="1490" y2="193.5"/>
<text x="1491" y="198" class="lbl">12.0</text>
<line class="ax" x1="1485" y1="120.5" x2="1490" y2="120.5"/>
<text x="1491" y="125" class="lbl">14.0</text>
<line class="ax" x1="1481" y1="48.5" x2="1490" y2="48.5"/>
<text x="1491" y="53" class="lbl">16.0</text>
<line class="ax" x1="1522.5" y1="48" x2="1522.5" y2="629"/>
<line class="ax" x1="1518" y1="628.5" x2="1527" y2="628.5"/>
<text x="1528.5" y="633" class="blk">0</text>
<line class="ax" x1="1522" y1="556.5" x2="1527" y2="556.5"/>
<text x="1528.5" y="561" class="blk">45</text>
<line class="ax" x1="1522" y1="483.5" x2="1527" y2="483.5"/>
<text x="1528.5" y="488" class="blk">90</text>
<line class="ax" x1="1522" y1="410.5" x2="1527" y2="410.5"/>
<text x="1528.5" y="415" class="blk">135</text>
<line class="ax" x1="1522" y1="338.5" x2="1527" y2="338.5"/>
<text x="1528.5" y="343" class="blk">180 S</text>
<line class="ax" x1="1522" y1="266.5" x2="1527" y2="266.5"/>
<text x="1528.5" y="271" class="blk">225</text>
<line class="ax" x1="1522" y1="193.5" x2="1527" y2="193.5"/>
<text x="1528.5" y="198" class="blk">270 W</text>
<line class="ax" x1="1522" y1="120.5" x2="1527" y2="120.5"/>
<text x="1528.5" y="125" class="blk">315</text>
<line class="ax" x1="1518" y1="48.5" x2="1527" y2="48.5"/>
<text x="1528.5" y="53" class="blk">360 N</text>
<text x="1547" y="633" class="blk">N</text>
<text x="1547" y="488" class="blk">O</text>
<line class="ax" x1="1559.5" y1="48" x2="1559.5" y2="629"/>
<line class="ax" x1="1555" y1="628.5" x2="1564" y2="628.5"/>
<text x="1565.5" y="633" class="pnk">0.0</text>
<line class="ax" x1="1559" y1="556.5" x2="1564" y2="556.5"/>
<text x="1565.5" y="561" class="pnk">2.0</text>
<line class="ax" x1="1559" y1="483.5" x2="1564" y2="483.5"/>
<text x="1565.5" y="488" class="pnk">4.0</text>
<line class="ax" x1="1559" y1="410.5" x2="1564" y2="410.5"/>
<text x="1565.5" y="415" class="pnk">6.0</text>
<line class="ax" x1="1559" y1="338.5" x2="1564" y2="338.5"/>
<text x="1565.5" y="343" class="pnk">8.0</text>
<line class="ax" x1="1559" y1="266.5" x2="1564" y2="266.5"/>
<text x="1565.5" y="271" class="pnk">10.0</text>
<line class="ax" x1="1559" y1="193.5" x2="1564" y2="193.5"/>
<text x="1565.5" y="198" class="pnk">12.0</text>
<line class="ax" x1="1559" y1="120.5" x2="1564" y2="120.5"/>
<text x="1565.5" y="125" class="pnk">14.0</text>
<line class="ax" x1="1555" y1="48.5" x2="1564" y2="48.5"/>
<text x="1565.5" y="53" class="pnk">16.0</text>
<text x="1449" y="37" class="blu">%</text>
<text x="1485" y="37" class="lbl">l/m²</text>
<text x="1522" y="37" class="blk">°</text>
<text x="1559" y="37" class="pnk">UV-I</text>
<text x="189" y="647" class="m blk">00:00</text>
<text x="241" y="647" class="m blk">01:00</text>
<text x="294" y="647" class="m blk">02:00</text>
<text x="347" y="647" class="m blk">03:00</text>
<text x="399" y="647" class="m blk">04:00</text>
<text x="451" y="647" class="m blk">05:00</text>
<text x="504" y="647" class="m blk">06:00</text>
<text x="557" y="647" class="m blk">07:00</text>
<text x="609" y="647" class="m blk">08:00</text>
<text x="661" y="647" class="m blk">09:00</text>
<text x="714" y="647" class="m blk">10:00</text>
<text x="767" y="647" class="m blk">11:00</text>
<text x="819" y="647" class="m blk">12:00</text>
<text x="871" y="647" class="m blk">13:00</text>
<text x="924" y="647" class="m blk">14:00</text>
<text x="977" y="647" class="m blk">15:00</text>
<text x="1029" y="647" class="m blk">16:00</text>
<text x="1081" y="647" class="m blk">17:00</text>
<text x="1134" y="647" class="m blk">18:00</text>
<text x="1187" y="647" class="m blk">19:00</text>
<text x="1239" y="647" class="m blk">20:00</text>
<text x="1291" y="647" class="m blk">21:00</text>
<text x="1344" y="647" class="m blk">22:00</text>
<text x="1397" y="647" class="m blk">23:00</text>
<text x="1449" y="647" class="m blk">24:00</text>
<rect x="198.5" y="33.5" width="9" height="9" fill="#ff0000" stroke="#000" stroke-width="1" shape-rendering="crispEdges"/>
<text x="212.5" y="42" class="red">Temp. A.</text>
<rect x="293.5" y="33.5" width="9" height="9" fill="#0000ff" stroke="#000" stroke-width="1" shape-rendering="crispEdges"/>
<text x="307.5" y="42" class="blu">Feuchte A.</text>
<rect x="388.5" y="33.5" width="9" height="9" fill="#00aa00" stroke="#000" stroke-width="1" shape-rendering="crispEdges"/>
<text x="402.5" y="42" class="grn">Luftdruck</text>
<rect x="483.5" y="33.5" width="9" height="9" fill="#0099ff" stroke="#000" stroke-width="1" shape-rendering="crispEdges"/>
<text x="497.5" y="42" class="lbl">Regen</text>
<rect x="578.5" y="33.5" width="9" height="9" fill="#000000" stroke="#000" stroke-width="1" shape-rendering="crispEdges"/>
<text x="592.5" y="42" class="blk">Wind</text>
<rect x="673.5" y="33.5" width="9" height="9" fill="#000000" stroke="#000" stroke-width="1" shape-rendering="crispEdges"/>
<text x="687.5" y="42" class="blk">Richtung</text>
<rect x="768.5" y="33.5" width="9" height="9" fill="#ffc000" stroke="#000" stroke-width="1" shape-rendering="crispEdges"/>
<text x="782.5" y="42" class="yel">Sonnenschein</text>
<rect x="863.5" y="33.5" width="9" height="9" fill="#800080" stroke="#000" stroke-width="1" shape-rendering="crispEdges"/>
<text x="877.5" y="42" class="lbl">ET</text>
<rect x="958.5" y="33.5" width="9" height="9" fill="#ff0080" stroke="#000" stroke-width="1" shape-rendering="crispEdges"/>
<text x="972.5" y="42" class="pnk">UV</text>
<rect x="1053.5" y="33.5" width="9" height="9" fill="#ff8000" stroke="#000" stroke-width="1" shape-rendering="crispEdges"/>
<text x="1067.5" y="42" class="org">Solar</text>
<rect x="1148.5" y="33.5" width="9" height="9" fill="#ff5500" stroke="#000" stroke-width="1" shape-rendering="crispEdges"/>
<text x="1162.5" y="42" class="red">Taupunkt</text>
<rect x="1243.5" y="33.5" width="9" height="9" fill="#804000" stroke="#000" stroke-width="1" shape-rendering="crispEdges"/>
<text x="1257.5" y="42" class="blk">Windböen</text>
<path d="M1338.5 42 V33.5 H1347.5 V42.5 H1344" fill="none" stroke="#ff0000" stroke-width="1" shape-rendering="crispEdges"/>
<text x="1352.5" y="42" class="red">0.6 Monat-Ø</text>
<text x="10.5" y="658" class="blk">08:27</text>
<path d="M40 657 V654 Q40 651 44.5 651 Q49 651 49 654 V657 Z" fill="#ffff00"/>
<text x="600.5" y="658" class="blk">08:29</text>
<g stroke="#ffff80" stroke-width="1" fill="none"><path d="M634 648.5v11M628.5 654h11M630 650l8 8M638 650l-8 8"/><path d="M634 648.5l4 1.5l1.5 4l-1.5 4l-4 1.5l-4 -1.5l-1.5 -4l1.5 -4z"/></g>
<circle cx="634" cy="654" r="3.1" fill="#ffff00"/>
<rect x="633" y="624" width="2" height="3" fill="#ffff00" shape-rendering="crispEdges"/><rect x="633" y="629" width="2" height="8" fill="#ffff00" shape-rendering="crispEdges"/>
<text x="1044.5" y="658" class="blk">16:56</text>
<rect x="1075.5" y="651.5" width="5" height="5" fill="none" stroke="#ffff60" stroke-width="1" shape-rendering="crispEdges"/>
<rect x="1077" y="625" width="2" height="2" fill="#ffff00" shape-rendering="crispEdges"/><rect x="1077" y="629" width="2" height="8" fill="#ffff00" shape-rendering="crispEdges"/>
<rect x="1" y="668" width="1598" height="72" fill="#c0ffff" shape-rendering="crispEdges"/>
<rect x="1599" y="667" width="1" height="73" fill="#909090" shape-rendering="crispEdges"/>
<rect x="87" y="668" width="1" height="72" fill="#f4ffff" shape-rendering="crispEdges"/>
<rect x="88" y="668" width="1" height="72" fill="#909090" shape-rendering="crispEdges"/>
<rect x="204" y="668" width="1" height="72" fill="#f4ffff" shape-rendering="crispEdges"/>
<rect x="205" y="668" width="1" height="72" fill="#909090" shape-rendering="crispEdges"/>
<rect x="322" y="668" width="1" height="72" fill="#f4ffff" shape-rendering="crispEdges"/>
<rect x="323" y="668" width="1" height="72" fill="#909090" shape-rendering="crispEdges"/>
<rect x="440" y="668" width="1" height="72" fill="#f4ffff" shape-rendering="crispEdges"/>
<rect x="441" y="668" width="1" height="72" fill="#909090" shape-rendering="crispEdges"/>
<rect x="558" y="668" width="1" height="72" fill="#f4ffff" shape-rendering="crispEdges"/>
<rect x="559" y="668" width="1" height="72" fill="#909090" shape-rendering="crispEdges"/>
<rect x="676" y="668" width="1" height="72" fill="#f4ffff" shape-rendering="crispEdges"/>
<rect x="677" y="668" width="1" height="72" fill="#909090" shape-rendering="crispEdges"/>
<rect x="794" y="668" width="1" height="72" fill="#f4ffff" shape-rendering="crispEdges"/>
<rect x="795" y="668" width="1" height="72" fill="#909090" shape-rendering="crispEdges"/>
<rect x="912" y="668" width="1" height="72" fill="#f4ffff" shape-rendering="crispEdges"/>
<rect x="913" y="668" width="1" height="72" fill="#909090" shape-rendering="crispEdges"/>
<text x="8" y="686" class="blk b">Sensor</text>
<text x="8" y="702" class="blk b">MinWert</text>
<text x="8" y="718" class="blk b">MaxWert</text>
<text x="8" y="734" class="blk b">Durchschnitt</text>
<text x="95" y="686" class="blk b">Temp. A.</text>
<text x="198" y="686" class="blk e b">°C</text>
<text x="95" y="702" class="blk">  00:18</text>
<text x="198" y="702" class="blk e">-5.4</text>
<text x="95" y="718" class="blk">  15:40</text>
<text x="198" y="718" class="blk e">1.5</text>
<text x="95" y="734" class="blk">  ( - 2.31 )</text>
<text x="198" y="734" class="blk e">-1.71</text>
<text x="212" y="686" class="blk b">Feuchte A.</text>
<text x="316" y="686" class="blk e b">%</text>
<text x="212" y="702" class="blk">  15:45</text>
<text x="316" y="702" class="blk e">79</text>
<text x="212" y="718" class="blk">  10:30</text>
<text x="316" y="718" class="blk e">95</text>
<text x="316" y="734" class="blk e">89</text>
<text x="330" y="686" class="blk b">Luftdruck</text>
<text x="434" y="686" class="blk e b">hPa</text>
<text x="330" y="702" class="blk">  00:00</text>
<text x="434" y="702" class="blk e">1021.8</text>
<text x="330" y="718" class="blk">  23:48</text>
<text x="434" y="718" class="blk e">1032.8</text>
<text x="330" y="734" class="blk">^1.0hPa/h</text>
<text x="434" y="734" class="blk e">1026.9</text>
<text x="448" y="686" class="blk b">Regen</text>
<text x="552" y="686" class="blk e b">l/m²</text>
<text x="448" y="718" class="blk">  00:00</text>
<text x="552" y="718" class="blk e">0.0</text>
<text x="448" y="734" class="blk">Gesamt:</text>
<text x="552" y="734" class="blk e">0.0</text>
<text x="566" y="686" class="blk b">Wind</text>
<text x="670" y="686" class="blk e b">km/h</text>
<text x="566" y="702" class="blk">Ø 10 min.</text>
<text x="670" y="702" class="blk e">1.3</text>
<text x="566" y="718" class="blk">  12:50</text>
<text x="670" y="718" class="blk e">N-NO 8.0</text>
<text x="670" y="734" class="blk e">2.8</text>
<text x="684" y="686" class="blk b">Windböen</text>
<text x="788" y="686" class="blk e b">km/h</text>
<text x="684" y="702" class="blk">Ø 10 min.</text>
<text x="788" y="702" class="blk e">4.0</text>
<text x="684" y="718" class="blk">  15:50</text>
<text x="788" y="718" class="blk e">NW 17.7</text>
<text x="788" y="734" class="blk e">5.5</text>
<text x="802" y="686" class="blk b">Solar</text>
<text x="906" y="686" class="blk e b">W/m²</text>
<text x="802" y="702" class="blk">Elevation</text>
<text x="906" y="702" class="blk e">-60.421</text>
<text x="802" y="718" class="blk">  14:15</text>
<text x="906" y="718" class="blk e">371</text>
<text x="802" y="734" class="blk">3:50 h</text>
<text x="906" y="734" class="blk e">46</text>
<text x="920" y="686" class="blk b">UV</text>
<text x="1022" y="686" class="blk e b">UV-I</text>
<text x="920" y="702" class="blk">  00:00</text>
<text x="1022" y="702" class="blk e">0.0</text>
<text x="920" y="718" class="blk">  13:05</text>
<text x="1022" y="718" class="blk e">0.2</text>
<text x="1022" y="734" class="blk e">0.1</text>
</svg>
</body></html>
